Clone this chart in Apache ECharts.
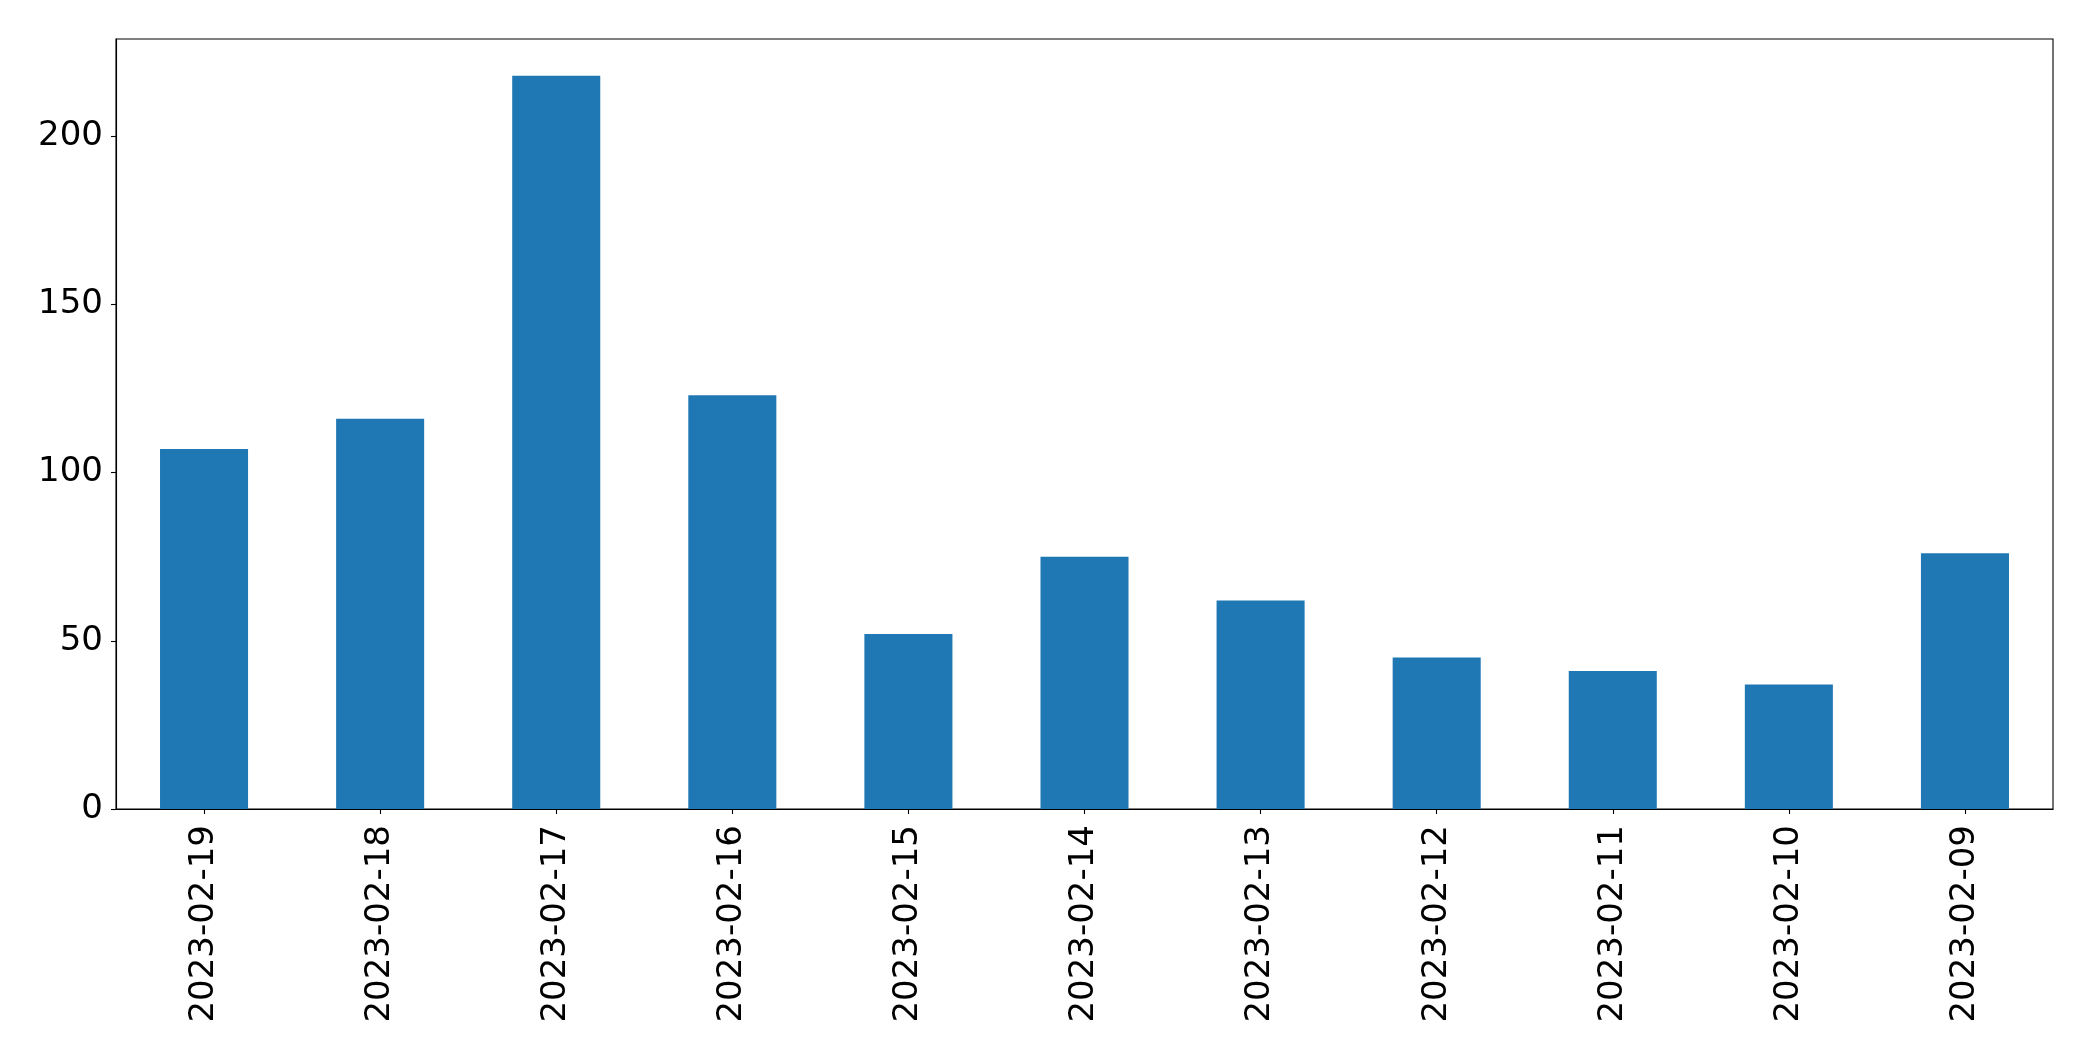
<!DOCTYPE html>
<html>
<head>
<meta charset="utf-8">
<style>
html,body{margin:0;padding:0;background:#fff;}
#chart{width:2093px;height:1061px;}
</style>
<script src="https://cdn.jsdelivr.net/npm/echarts@6/dist/echarts.min.js"></script>
</head>
<body>
<div id="chart"></div>
<script>
const categories = ["2023-02-19","2023-02-18","2023-02-17","2023-02-16","2023-02-15","2023-02-14","2023-02-13","2023-02-12","2023-02-11","2023-02-10","2023-02-09"];
const values = [107,116,218,123,52,75,62,45,41,37,76];
const yTicks = [0,50,100,150,200];

const font = 'DejaVu Sans';
const chart = echarts.init(document.getElementById('chart'), null, {renderer:'canvas'});
chart.setOption({
  animation:false,
  backgroundColor:'#ffffff',
  grid:{left:116,right:40,top:39,bottom:252,show:true,borderColor:'#000',borderWidth:1.1,containLabel:false},
  xAxis:{
    type:'category',
    data:categories,
    boundaryGap:true,
    axisLine:{show:true,lineStyle:{color:'#000',width:1.1}},
    axisTick:{show:true,alignWithLabel:true,length:5,lineStyle:{color:'#000',width:1.1}},
    axisLabel:{rotate:90,margin:16,fontFamily:font,fontSize:34,color:'#000',interval:0},
    splitLine:{show:false}
  },
  yAxis:{
    type:'value',
    min:0,
    max:Math.max(...values)*1.05,
    interval:50,
    axisLine:{show:true,lineStyle:{color:'#000',width:1.1}},
    axisTick:{show:true,length:5,customValues:yTicks,lineStyle:{color:'#000',width:1.1}},
    axisLabel:{margin:13,fontFamily:font,fontSize:34,color:'#000',customValues:yTicks},
    splitLine:{show:false}
  },
  series:[{
    type:'bar',
    data:values,
    barWidth:'50%',
    itemStyle:{color:'#1f77b4'}
  }]
});
</script>
</body>
</html>
